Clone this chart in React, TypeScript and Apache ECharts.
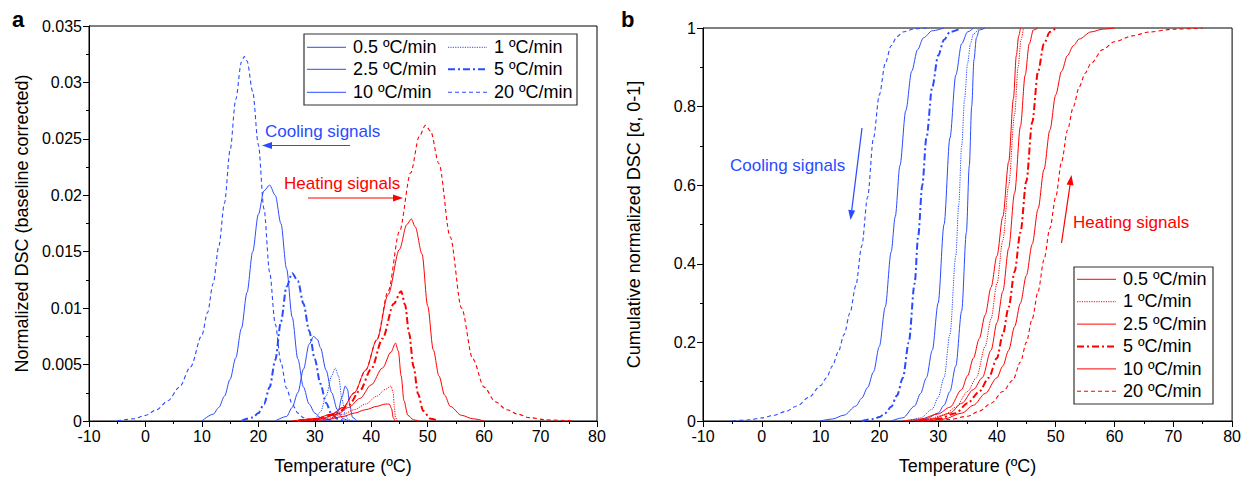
import React, { useEffect, useRef } from "react";
import * as echarts from "echarts";

const BLUE = "#2a4bff";
const RED = "#ff0000";
const FONT = "'Liberation Sans', Arial, sans-serif";

const rateLabels = ["0.5 ºC/min", "1 ºC/min", "2.5 ºC/min", "5 ºC/min", "10 ºC/min", "20 ºC/min"];
const xTicksTitle = "Temperature (ºC)";

// ---------- Panel a: normalized DSC, cooling (blue) ----------
const dscCool05: number[][] = [[31, 0], [32.5, 0.0001], [33.5, 0.0004], [34.2, 0.001], [34.8, 0.0021], [35.4, 0.0031], [35.8, 0.0028], [36.2, 0.0014], [36.7, 0.0003], [37.5, 0]];
const dscCool1: number[][] = [[28, 0], [30, 0.0002], [31, 0.0008], [32, 0.0022], [33, 0.004], [33.6, 0.0047], [34.2, 0.004], [34.8, 0.002], [35.4, 0.0005], [36, 0.0001], [37, 0]];
const dscCool25: number[][] = [[23, 0], [25, 0.0004], [26, 0.0012], [27, 0.0025], [28, 0.0046], [29, 0.0068], [29.8, 0.0075], [30.5, 0.0072], [31, 0.0065], [32, 0.0045], [33, 0.0025], [34, 0.001], [35, 0.0002], [36, 0]];
const dscCool5: number[][] = [[17, 0], [19, 0.0003], [20, 0.0007], [21, 0.0015], [22, 0.003], [23, 0.0054], [24, 0.0088], [25, 0.0119], [26, 0.0131], [27, 0.0124], [28, 0.0104], [29, 0.008], [30, 0.0055], [31, 0.0033], [32, 0.0016], [33, 0.0006], [34, 0.0002], [35, 0]];
const dscCool10: number[][] = [[10, 0], [12, 0.0006], [13, 0.0012], [14, 0.0022], [15, 0.0037], [16, 0.0056], [17, 0.0082], [18, 0.0114], [19, 0.015], [20, 0.0183], [21, 0.0204], [22, 0.0209], [23, 0.02], [24, 0.0175], [25, 0.0135], [26, 0.0092], [27, 0.0055], [28, 0.003], [29, 0.0015], [30, 0.0007], [31, 0.0003], [33, 0]];
const dscCool20: number[][] = [[-5, 0], [-2, 0.0002], [0, 0.0005], [2, 0.001], [4, 0.0018], [6, 0.003], [8, 0.0048], [10, 0.0076], [11, 0.0096], [12, 0.0122], [13, 0.0155], [14, 0.0193], [15, 0.024], [16, 0.0285], [17, 0.0318], [17.5, 0.0323], [18, 0.0319], [19, 0.0292], [20, 0.0245], [21, 0.0188], [22, 0.0132], [23, 0.0086], [24, 0.0052], [25, 0.0029], [26, 0.0015], [27, 0.0007], [28, 0.0003], [29, 0.0001], [31, 0]];

// ---------- Panel a: normalized DSC, heating (red) ----------
const dscHeat05: number[][] = [[28, 0], [32, 0.0001], [35, 0.0004], [37, 0.0007], [39, 0.001], [41, 0.0013], [42.5, 0.0015], [43.2, 0.0015], [43.6, 0.0011], [43.9, 0.0003], [44.2, 0]];
const dscHeat1: number[][] = [[28, 0], [32, 0.0002], [35, 0.0006], [37, 0.001], [39, 0.0015], [41, 0.0022], [42.5, 0.0028], [43.5, 0.0031], [43.9, 0.0025], [44.1, 0.0012], [44.3, 0.0003], [44.6, 0]];
const dscHeat25: number[][] = [[27, 0], [31, 0.0002], [34, 0.0006], [36, 0.0012], [38, 0.002], [40, 0.0032], [42, 0.0047], [43.5, 0.0061], [44.3, 0.0069], [44.8, 0.0062], [45.3, 0.004], [45.8, 0.0018], [46.5, 0.0005], [47.5, 0.0001], [48.5, 0]];
const dscHeat5: number[][] = [[27, 0], [31, 0.0002], [34, 0.0007], [36, 0.0014], [38, 0.0027], [40, 0.0046], [42, 0.0073], [44, 0.0104], [45.3, 0.0115], [46, 0.0103], [46.7, 0.0078], [47.5, 0.0048], [48.3, 0.0024], [49.2, 0.0009], [50.5, 0.0002], [52, 0]];
const dscHeat10: number[][] = [[26, 0], [30, 0.0002], [33, 0.0006], [35, 0.0012], [37, 0.0025], [39, 0.0045], [41, 0.0072], [43, 0.0112], [45, 0.0152], [46.3, 0.0174], [47.1, 0.0179], [47.8, 0.0172], [49, 0.0148], [50, 0.0102], [51, 0.0063], [52, 0.004], [53, 0.0023], [54, 0.0013], [56, 0.0005], [58, 0.0002], [60, 0]];
const dscHeat20: number[][] = [[26, 0], [30, 0.0002], [33, 0.0006], [35, 0.0012], [37, 0.0025], [39, 0.0045], [41, 0.0072], [43, 0.0115], [45, 0.0168], [47, 0.022], [48.5, 0.0252], [49.6, 0.0262], [50.5, 0.0257], [52, 0.0228], [54, 0.0163], [56, 0.01], [58, 0.0055], [60, 0.003], [62, 0.0017], [64, 0.001], [66, 0.0006], [68, 0.0003], [71, 0.0001], [76, 0]];

// ---------- Panel b: cumulative, cooling (blue) ----------
const cumCool05: number[][] = [[26, 0], [28, 0.006], [30, 0.02], [31, 0.04], [32, 0.075], [33, 0.14], [34, 0.28], [34.8, 0.48], [35.3, 0.65], [35.7, 0.8], [36.1, 0.92], [36.5, 0.975], [37, 0.995], [38, 1]];
const cumCool1: number[][] = [[25, 0], [27, 0.008], [29, 0.03], [30, 0.06], [31, 0.11], [32, 0.22], [33, 0.42], [33.5, 0.55], [34, 0.7], [34.5, 0.82], [35, 0.91], [35.5, 0.96], [36, 0.985], [37, 1]];
const cumCool25: number[][] = [[22, 0], [24, 0.008], [26, 0.038], [27, 0.07], [28, 0.11], [29, 0.18], [30, 0.3], [31, 0.5], [32, 0.72], [33, 0.88], [34, 0.96], [35, 0.99], [36, 1]];
const cumCool5: number[][] = [[17, 0], [19, 0.005], [20, 0.01], [21, 0.02], [22, 0.036], [23, 0.065], [24, 0.11], [25, 0.2], [26, 0.35], [26.6, 0.47], [27.3, 0.6], [28, 0.72], [29, 0.85], [30, 0.93], [31, 0.97], [32, 0.99], [34, 1]];
const cumCool10: number[][] = [[10, 0], [12, 0.005], [14, 0.015], [16, 0.038], [17, 0.058], [18, 0.085], [19, 0.125], [20, 0.19], [21, 0.29], [22, 0.43], [22.7, 0.52], [23.5, 0.65], [24.5, 0.79], [25.5, 0.89], [26.5, 0.945], [27.5, 0.975], [29, 0.993], [31, 1]];
const cumCool20: number[][] = [[-5, 0], [-2, 0.003], [0, 0.008], [2, 0.014], [4, 0.024], [6, 0.038], [8, 0.06], [10, 0.09], [11, 0.11], [12, 0.14], [13, 0.175], [14, 0.22], [15, 0.275], [16, 0.345], [17, 0.445], [18, 0.57], [19, 0.72], [20, 0.83], [21, 0.91], [22, 0.955], [23, 0.978], [24, 0.99], [26, 0.998], [28, 1]];

// ---------- Panel b: cumulative, heating (red) ----------
const cumHeat05: number[][] = [[24, 0], [27, 0.005], [30, 0.018], [32, 0.035], [34, 0.08], [35, 0.115], [36, 0.16], [37, 0.21], [38, 0.27], [39, 0.34], [40, 0.42], [41, 0.52], [42, 0.66], [42.8, 0.82], [43.3, 0.93], [43.7, 0.98], [44, 1]];
const cumHeat1: number[][] = [[25, 0], [28, 0.004], [31, 0.015], [33, 0.035], [35, 0.075], [36.5, 0.11], [38, 0.19], [39, 0.26], [40, 0.35], [41, 0.46], [42, 0.6], [43, 0.78], [43.6, 0.9], [44.1, 0.97], [44.5, 1]];
const cumHeat25: number[][] = [[26, 0], [29, 0.005], [32, 0.02], [34, 0.045], [36, 0.08], [37.5, 0.11], [39, 0.18], [40, 0.25], [41, 0.33], [42, 0.44], [43, 0.58], [44, 0.75], [44.8, 0.88], [45.5, 0.96], [46.2, 0.995], [47, 1]];
const cumHeat5: number[][] = [[27, 0], [30, 0.005], [33, 0.02], [35, 0.045], [37, 0.075], [38.6, 0.11], [40, 0.16], [41, 0.22], [42, 0.29], [43, 0.38], [44, 0.48], [45, 0.61], [46, 0.76], [47, 0.89], [48, 0.96], [49, 0.99], [50, 1]];
const cumHeat10: number[][] = [[28, 0], [31, 0.005], [34, 0.02], [36, 0.04], [38, 0.07], [40, 0.11], [41, 0.14], [42, 0.18], [43, 0.24], [44, 0.3], [45, 0.37], [46, 0.45], [47, 0.54], [48, 0.64], [49, 0.74], [50, 0.83], [51, 0.89], [52, 0.93], [53, 0.955], [54, 0.972], [56, 0.99], [58, 0.997], [60, 1]];
const cumHeat20: number[][] = [[29, 0], [32, 0.004], [35, 0.012], [37, 0.025], [39, 0.045], [41, 0.075], [42.7, 0.104], [44, 0.15], [45, 0.2], [46, 0.26], [47, 0.33], [48, 0.41], [49, 0.49], [50, 0.57], [51, 0.66], [52, 0.74], [53, 0.8], [54, 0.85], [55, 0.885], [56, 0.91], [58, 0.945], [60, 0.965], [63, 0.98], [66, 0.99], [70, 0.997], [75, 1]];

const dscCool = [dscCool05, dscCool1, dscCool25, dscCool5, dscCool10, dscCool20];
const dscHeat = [dscHeat05, dscHeat1, dscHeat25, dscHeat5, dscHeat10, dscHeat20];
const cumCool = [cumCool05, cumCool1, cumCool25, cumCool5, cumCool10, cumCool20];
const cumHeat = [cumHeat05, cumHeat1, cumHeat25, cumHeat5, cumHeat10, cumHeat20];

const lineTypes: any[] = [
  { type: "solid", width: 1 },
  { type: [1.2, 1.2], width: 1 },
  { type: "solid", width: 1 },
  { type: [7, 3, 2, 3], width: 2 },
  { type: "solid", width: 1 },
  { type: [4, 3], width: 1.1 },
];

function mkSeries(data: number[][], idx: number, color: string, panel: number, name: string) {
  return {
    type: "line",
    name,
    xAxisIndex: panel,
    yAxisIndex: panel,
    data,
    showSymbol: false,
    symbol: "none",
    smooth: 0.3,
    smoothMonotone: "x",
    lineStyle: { color, width: lineTypes[idx].width, type: lineTypes[idx].type },
    silent: true,
  };
}

function legendGraphics(key: string, x0: number, y0: number, w: number, h: number, items: { x: number; y: number; label: string; idx: number }[], color: string) {
  const els: any[] = [
    { id: key + "-box", type: "rect", shape: { x: x0, y: y0, width: w, height: h }, style: { fill: "#fff", stroke: "#333", lineWidth: 1.2 }, z: 100 },
  ];
  items.forEach((it, k) => {
    const lt = lineTypes[it.idx];
    const st: any = { stroke: color, fill: null, lineWidth: lt.width };
    if (Array.isArray(lt.type)) st.lineDash = lt.type;
    els.push({
      id: key + "-line-" + k,
      type: "polyline",
      shape: { points: [[it.x, it.y + 0.3], [it.x + 39, it.y + 0.3]] },
      style: st,
      z: 101,
    });
    els.push({
      id: key + "-text-" + k,
      type: "text",
      style: { text: it.label, x: it.x + 46, y: it.y, fill: "#000", font: `18px ${FONT}`, verticalAlign: "middle", align: "left" },
      z: 101,
    });
  });
  return els;
}

function arrow(key: string, x1: number, y1: number, x2: number, y2: number, color: string) {
  const dx = x2 - x1, dy = y2 - y1;
  const len = Math.sqrt(dx * dx + dy * dy);
  const ux = dx / len, uy = dy / len;
  const bx = x2 - ux * 10, by = y2 - uy * 10;
  const px = -uy * 3.5, py = ux * 3.5;
  return [
    { id: key + "-l", type: "polyline", shape: { points: [[x1, y1], [bx, by]] }, style: { stroke: color, fill: null, lineWidth: 1.2 }, z: 90 },
    { id: key + "-h", type: "polygon", shape: { points: [[x2, y2], [bx + px, by + py], [bx - px, by - py]] }, style: { fill: color }, z: 90 },
  ];
}

function label(key: string, text: string, x: number, y: number, color: string, size = 17, bold = false) {
  return { id: key, type: "text", style: { text, x, y, fill: color, font: `${bold ? "bold " : ""}${size}px ${FONT}`, verticalAlign: "middle", align: "left" }, z: 90 };
}

const axisBase = {
  axisLine: { show: true, onZero: false, lineStyle: { color: "#000", width: 1 } },
  axisTick: { show: true, inside: false, length: 6, lineStyle: { color: "#000" } },
  minorTick: { show: true, splitNumber: 2, length: 3, lineStyle: { color: "#000" } },
  splitLine: { show: false },
  axisLabel: { color: "#000", fontSize: 16, fontFamily: FONT, margin: 7 },
  nameTextStyle: { color: "#000", fontSize: 18, fontFamily: FONT },
};

export default function App() {
  const ref = useRef<HTMLDivElement>(null);
  useEffect(() => {
    if (!ref.current) return;
    const chart = echarts.init(ref.current, undefined, { renderer: "svg" });
    const series: any[] = [];
    dscCool.forEach((d, i) => series.push(mkSeries(d, i, BLUE, 0, "a-cool-" + rateLabels[i])));
    dscHeat.forEach((d, i) => series.push(mkSeries(d, i, RED, 0, "a-heat-" + rateLabels[i])));
    cumCool.forEach((d, i) => series.push(mkSeries(d, i, BLUE, 1, "b-cool-" + rateLabels[i])));
    cumHeat.forEach((d, i) => series.push(mkSeries(d, i, RED, 1, "b-heat-" + rateLabels[i])));

    const legA = legendGraphics("legA", 304, 34, 273, 71, [
      { x: 307, y: 47, label: rateLabels[0], idx: 0 },
      { x: 448, y: 47, label: rateLabels[1], idx: 1 },
      { x: 307, y: 69, label: rateLabels[2], idx: 2 },
      { x: 448, y: 69, label: rateLabels[3], idx: 3 },
      { x: 307, y: 92, label: rateLabels[4], idx: 4 },
      { x: 448, y: 92, label: rateLabels[5], idx: 5 },
    ], BLUE);
    const legB = legendGraphics("legB", 1074, 267, 139, 137, rateLabels.map((l, i) => ({ x: 1077, y: 279 + i * 22.4, label: l, idx: i })), RED);

    chart.setOption({
      animation: false,
      backgroundColor: "#fff",
      grid: [
        { left: 89, top: 26, width: 508, height: 395, show: true, borderColor: "#000", borderWidth: 1, backgroundColor: "transparent" },
        { left: 703, top: 28, width: 534, height: 393, show: true, borderColor: "#000", borderWidth: 1, backgroundColor: "transparent" },
      ],
      xAxis: [
        { ...axisBase, type: "value", gridIndex: 0, min: -10, max: 80, interval: 10, name: xTicksTitle, nameLocation: "middle", nameGap: 36 },
        { ...axisBase, type: "value", gridIndex: 1, min: -10, max: 80, interval: 10, name: xTicksTitle, nameLocation: "middle", nameGap: 36 },
      ],
      yAxis: [
        {
          ...axisBase, type: "value", gridIndex: 0, min: 0, max: 0.035, interval: 0.005,
          axisLabel: { ...axisBase.axisLabel, formatter: (v: number) => String(parseFloat(v.toFixed(4))) },
          name: "Normalized DSC (baseline corrected)", nameLocation: "middle", nameGap: 58, nameRotate: 90,
        },
        {
          ...axisBase, type: "value", gridIndex: 1, min: 0, max: 1, interval: 0.2,
          axisLabel: { ...axisBase.axisLabel, formatter: (v: number) => String(parseFloat(v.toFixed(2))) },
          name: "Cumulative normalized DSC [α, 0-1]", nameLocation: "middle", nameGap: 60, nameRotate: 90,
        },
      ],
      series,
      graphic: [
        label("lblA", "a", 12, 19, "#000", 22, true),
        label("lblB", "b", 621, 19, "#000", 22, true),
        label("coolA", "Cooling signals", 265, 131, BLUE),
        ...arrow("arrCoolA", 350, 145.5, 262, 145.5, BLUE),
        label("heatA", "Heating signals", 284, 183.5, RED),
        ...arrow("arrHeatA", 308, 198, 403, 198, RED),
        label("coolB", "Cooling signals", 730, 165, BLUE),
        ...arrow("arrCoolB", 862, 128, 850.5, 220, BLUE),
        label("heatB", "Heating signals", 1073, 222.5, RED),
        ...arrow("arrHeatB", 1061.5, 243, 1071.5, 175, RED),
        ...legA,
        ...legB,
      ],
    });
    return () => chart.dispose();
  }, []);
  return <div ref={ref} style={{ position: "absolute", left: 0, top: 0, width: 1244, height: 481 }} />;
}
